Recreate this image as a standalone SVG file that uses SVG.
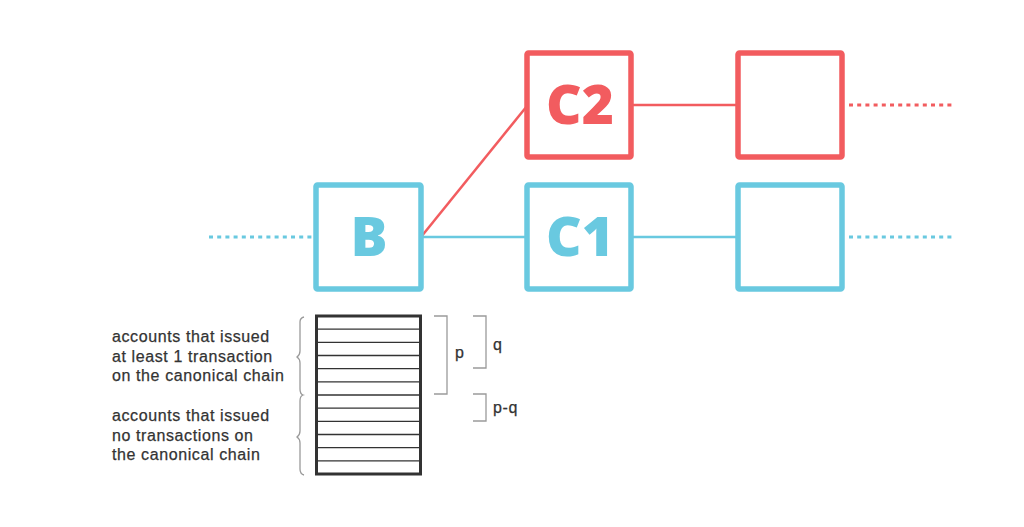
<svg xmlns="http://www.w3.org/2000/svg" width="1024" height="527" viewBox="0 0 1024 527">
<style>
.blue{stroke:#69c9e0;fill:none}
.red{stroke:#f25c5f;fill:none}
.box{stroke-width:5.5;fill:#fff}
.link{stroke-width:2.5}
.dot{stroke-width:3;stroke-dasharray:4 4.2;stroke-linecap:butt}
.big{font-family:"Open Sans","DejaVu Sans",sans-serif;font-weight:800;font-size:55px;text-anchor:middle}
.lbl{font-family:"Liberation Sans","Open Sans",sans-serif;font-size:16px;letter-spacing:0.6px;fill:#333;stroke:#333;stroke-width:0.25}
.gray{stroke:#9a9a9a;stroke-width:1.3;fill:none}
.row{stroke:#333;stroke-width:1.3}
</style>
<g id="connectors">
<line class="blue dot" x1="209" y1="237" x2="312" y2="237"/>
<line class="blue link" x1="421" y1="237" x2="527" y2="237"/>
<line class="blue link" x1="631" y1="237" x2="738" y2="237"/>
<line class="blue dot" x1="849" y1="237" x2="952" y2="237"/>
<line class="red link" x1="421" y1="237" x2="527" y2="106"/>
<line class="red link" x1="631" y1="105" x2="738" y2="105"/>
<line class="red dot" x1="849" y1="105" x2="952" y2="105"/>
</g>
<g id="node-B">
<rect class="blue box" x="316" y="185" width="105" height="104" rx="1.5"/>
<text class="big" x="369" y="256" fill="#69c9e0">B</text>
</g>
<g id="node-C1">
<rect class="blue box" x="527" y="185" width="104" height="104" rx="1.5"/>
<text class="big" x="580" y="256" fill="#69c9e0">C1</text>
</g>
<g id="node-C2">
<rect class="red box" x="527" y="53" width="104" height="104" rx="1.5"/>
<text class="big" x="580" y="124" fill="#f25c5f">C2</text>
</g>
<g id="node-next-red">
<rect class="red box" x="738" y="53" width="104" height="104" rx="1.5"/>
</g>
<g id="node-next-blue">
<rect class="blue box" x="738" y="185" width="104" height="104" rx="1.5"/>
</g>
<g id="accounts-table">
<rect x="316.5" y="316" width="104" height="158" fill="#fff" stroke="#333" stroke-width="3"/>
<g class="row">
<line x1="317" y1="329.2" x2="420" y2="329.2"/>
<line x1="317" y1="342.3" x2="420" y2="342.3"/>
<line x1="317" y1="355.5" x2="420" y2="355.5"/>
<line x1="317" y1="368.7" x2="420" y2="368.7"/>
<line x1="317" y1="381.8" x2="420" y2="381.8"/>
<line x1="317" y1="395" x2="420" y2="395"/>
<line x1="317" y1="408.2" x2="420" y2="408.2"/>
<line x1="317" y1="421.3" x2="420" y2="421.3"/>
<line x1="317" y1="434.5" x2="420" y2="434.5"/>
<line x1="317" y1="447.7" x2="420" y2="447.7"/>
<line x1="317" y1="460.8" x2="420" y2="460.8"/>
</g>
</g>
<g id="braces">
<path class="gray" d="M304,317 Q300,318 300,322 L300,351 Q300,355 297,357 Q300,359 300,363 L300,389 Q300,394 303,395 Q300,396 300,401 L300,431 Q300,435 297,437 Q300,439 300,443 L300,469 Q300,474 304,475"/>
<path class="gray" d="M434,316 L447,316 L447,394 L434,394"/>
<path class="gray" d="M473,316 L486,316 L486,368 L473,368"/>
<path class="gray" d="M473,394 L486,394 L486,421 L473,421"/>
</g>
<g id="labels">
<text class="lbl" x="112" y="342">accounts that issued</text>
<text class="lbl" x="112" y="361.5">at least 1 transaction</text>
<text class="lbl" x="112" y="381">on the canonical chain</text>
<text class="lbl" x="112" y="421">accounts that issued</text>
<text class="lbl" x="112" y="440.5">no transactions on</text>
<text class="lbl" x="112" y="460">the canonical chain</text>
<text class="lbl" x="455" y="358">p</text>
<text class="lbl" x="493" y="350">q</text>
<text class="lbl" x="493" y="413">p-q</text>
</g>
</svg>
